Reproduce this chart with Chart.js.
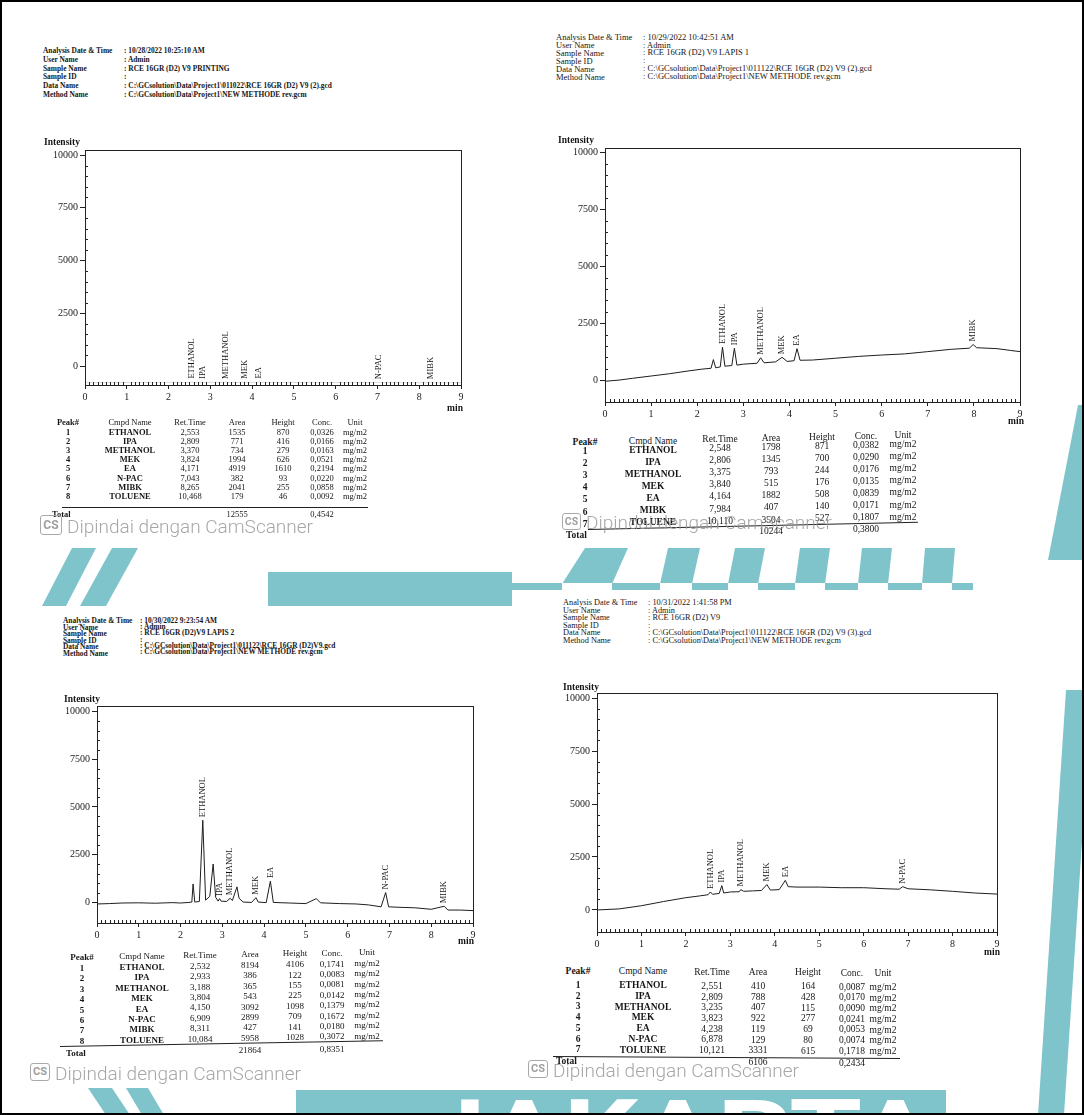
<!DOCTYPE html>
<html>
<head>
<meta charset="utf-8">
<script src="https://cdn.jsdelivr.net/npm/chart.js@4.4.1/dist/chart.umd.min.js"></script>
<style>
  body { margin: 0; background: #fff; }
  #page { position: relative; width: 1084px; height: 1115px; overflow: hidden; background: #fff; font-family: 'Liberation Serif', 'DejaVu Serif', serif; color: #161616; }
  #frame { position: absolute; left: 0; top: 0; width: 1084px; height: 1115px; box-sizing: border-box; border: 2px solid #000; z-index: 10; }
  #wm { position: absolute; left: 0; top: 0; z-index: 0; }
  .t { position: absolute; white-space: nowrap; line-height: 1; z-index: 2; }
  canvas { position: absolute; z-index: 2; }
  .cs { position: absolute; z-index: 3; box-sizing: border-box; border: 1.5px solid #a9a9a9; border-radius: 3px; color: #a0a0a0; font-family: Roboto, 'DejaVu Sans', sans-serif; font-weight: bold; text-align: center; }
  .scan { position: absolute; z-index: 3; white-space: nowrap; line-height: 1; color: rgba(150, 150, 150, 0.85); font-family: Roboto, 'Open Sans', sans-serif; font-weight: 300; }
  .rule { position: absolute; z-index: 2; border-top: 1.2px solid #222; transform-origin: 0 0; }
</style>
</head>
<body>
<div id="page">
  <svg id="wm" width="1084" height="1115">
    <g fill="#80c4cb">
      <polygon points="72,548 96,548 66,606 42,606" />
      <polygon points="112,548 138,548 106,606 80,606" />
      <rect x="268" y="572" width="244" height="34" />
      <polygon points="585,548 628,548 612,584 562,584" />
      <polygon points="668,548 700,548 692,584 660,584" />
      <polygon points="735,548 765,548 758,584 728,584" />
      <polygon points="800,548 830,548 825,584 795,584" />
      <polygon points="862,548 892,548 888,584 858,584" />
      <polygon points="925,548 955,548 952,584 922,584" />
      <rect x="505" y="583" width="468" height="7" />
      <polygon points="1078,405 1090,405 1090,560 1048,560" />
      <polygon points="1066,690 1092,690 1064,1115 1038,1115" />
      <polygon points="88,1088 112,1088 130,1115 106,1115" />
      <polygon points="126,1088 148,1088 164,1115 142,1115" />
      <rect x="296" y="1090" width="650" height="30" />
    </g>
    <g fill="#fff">
      <rect x="562" y="583" width="50" height="7" />
      <rect x="660" y="583" width="32" height="7" />
      <rect x="728" y="583" width="30" height="7" />
      <rect x="795" y="583" width="30" height="7" />
      <rect x="858" y="583" width="30" height="7" />
      <rect x="922" y="583" width="30" height="7" />
      <text x="420" y="1168" font-family="Roboto, 'DejaVu Sans', sans-serif" font-weight="bold" font-size="96" textLength="515" lengthAdjust="spacingAndGlyphs">JAKARTA</text>
    </g>
  </svg>
  <canvas id="c1" width="431" height="270"></canvas>
  <canvas id="c2" width="470" height="289"></canvas>
  <canvas id="c3" width="431" height="252"></canvas>
  <canvas id="c4" width="455" height="274"></canvas>
  <div id="frame"></div>
</div>
<script>
// 共用刻度與表頭
const xTicks = [0, 1, 2, 3, 4, 5, 6, 7, 8, 9]
const yTicks = [0, 2500, 5000, 7500, 10000]
const hdrLabels = ['Analysis Date & Time', 'User Name', 'Sample Name', 'Sample ID', 'Data Name', 'Method Name']
const tblHeads = ['Peak#', 'Cmpd Name', 'Ret.Time', 'Area', 'Height', 'Conc.', 'Unit']
const unitLabel = 'mg/m2'

// 1) 10/28 PRINTING
const p1Header = ['10/28/2022 10:25:10 AM', 'Admin', 'RCE 16GR (D2) V9 PRINTING', '', 'C:\\GCsolution\\Data\\Project1\\011022\\RCE 16GR (D2) V9 (2).gcd', 'C:\\GCsolution\\Data\\Project1\\NEW METHODE rev.gcm']
const p1Names = ['ETHANOL', 'IPA', 'METHANOL', 'MEK', 'EA', 'N-PAC', 'MIBK', 'TOLUENE']
const p1RetTime = [2.553, 2.809, 3.370, 3.824, 4.171, 7.043, 8.265, 10.468]
const p1Area = [1535, 771, 734, 1994, 4919, 382, 2041, 179]
const p1Height = [870, 416, 279, 626, 1610, 93, 255, 46]
const p1Conc = [0.0326, 0.0166, 0.0163, 0.0521, 0.2194, 0.0220, 0.0858, 0.0092]
const p1Total = [12555, 0.4542]
const p1Time = [0, 1.0, 2.0, 2.52, 2.553, 2.59, 2.78, 2.809, 2.84, 3.34, 3.370, 3.40, 3.79, 3.824, 3.86, 4.14, 4.171, 4.20, 5.0, 6.0, 7.01, 7.043, 7.08, 8.23, 8.265, 8.30, 9.0]
const p1Signal = [-790, -780, -775, -775, -740, -775, -775, -750, -775, -775, -755, -775, -775, -745, -775, -775, -730, -775, -780, -785, -785, -770, -785, -790, -765, -790, -795]

// 2) 10/29 LAPIS 1
const p2Header = ['10/29/2022  10:42:51 AM', 'Admin', 'RCE 16GR (D2) V9  LAPIS 1', '', 'C:\\GCsolution\\Data\\Project1\\011122\\RCE 16GR (D2) V9 (2).gcd', 'C:\\GCsolution\\Data\\Project1\\NEW METHODE rev.gcm']
const p2Names = ['ETHANOL', 'IPA', 'METHANOL', 'MEK', 'EA', 'MIBK', 'TOLUENE']
const p2RetTime = [2.548, 2.806, 3.375, 3.840, 4.164, 7.984, 10.110]
const p2Area = [1798, 1345, 793, 515, 1882, 407, 3504]
const p2Height = [871, 700, 244, 176, 508, 140, 527]
const p2Conc = [0.0382, 0.0290, 0.0176, 0.0135, 0.0839, 0.0171, 0.1807]
const p2Total = [10244, 0.3800]
const p2Time = [0, 0.3, 0.6, 1.0, 1.4, 1.8, 2.1, 2.3, 2.35, 2.4, 2.5, 2.548, 2.6, 2.75, 2.806, 2.86, 3.0, 3.3, 3.375, 3.45, 3.7, 3.84, 3.95, 4.1, 4.164, 4.23, 4.5, 5.0, 5.5, 6.0, 6.5, 7.0, 7.5, 7.9, 7.984, 8.06, 8.5, 8.8, 9.0]
const p2Signal = [-50, 0, 80, 180, 280, 400, 480, 520, 900, 540, 580, 1450, 610, 640, 1400, 660, 700, 740, 980, 760, 800, 1000, 820, 850, 1380, 870, 880, 960, 1040, 1100, 1150, 1250, 1350, 1400, 1560, 1420, 1380, 1300, 1250]

// 3) 10/30 LAPIS 2
const p3Header = ['10/30/2022 9:23:54 AM', 'Admin', 'RCE 16GR (D2)V9 LAPIS 2', '', 'C:\\GCsolution\\Data\\Project1\\011122\\RCE 16GR (D2)V9.gcd', 'C:\\GCsolution\\Data\\Project1\\NEW METHODE rev.gcm']
const p3Names = ['ETHANOL', 'IPA', 'METHANOL', 'MEK', 'EA', 'N-PAC', 'MIBK', 'TOLUENE']
const p3RetTime = [2.532, 2.933, 3.188, 3.804, 4.150, 6.909, 8.311, 10.084]
const p3Area = [8194, 386, 365, 543, 3092, 2899, 427, 5958]
const p3Height = [4106, 122, 155, 225, 1098, 709, 141, 1028]
const p3Conc = [0.1741, 0.0083, 0.0081, 0.0142, 0.1379, 0.1672, 0.0180, 0.3072]
const p3Total = [21864, 0.8351]
const p3Time = [0, 0.3, 0.6, 1.0, 1.4, 1.8, 2.0, 2.2, 2.27, 2.30, 2.34, 2.45, 2.532, 2.60, 2.70, 2.78, 2.84, 2.90, 2.933, 2.97, 3.10, 3.188, 3.24, 3.35, 3.40, 3.5, 3.7, 3.804, 3.86, 4.05, 4.15, 4.22, 4.6, 5.0, 5.25, 5.35, 5.8, 6.2, 6.5, 6.8, 6.909, 6.98, 7.3, 7.6, 8.0, 8.311, 8.4, 8.7, 9.0]
const p3Signal = [-100, -80, -50, -40, -60, -30, -50, -20, 0, 950, 0, 30, 4300, 100, 300, 2000, 250, 50, 180, 50, 30, 200, 80, 800, 200, 0, -20, 230, 0, -30, 1100, -20, -50, -80, 180, -40, -80, -100, -150, -250, 500, -250, -280, -300, -380, -220, -420, -420, -450]

// 4) 10/31
const p4Header = ['10/31/2022 1:41:58 PM', 'Admin', 'RCE 16GR (D2) V9', '', 'C:\\GCsolution\\Data\\Project1\\011122\\RCE 16GR (D2) V9 (3).gcd', 'C:\\GCsolution\\Data\\Project1\\NEW METHODE rev.gcm']
const p4Names = ['ETHANOL', 'IPA', 'METHANOL', 'MEK', 'EA', 'N-PAC', 'TOLUENE']
const p4RetTime = [2.551, 2.809, 3.235, 3.823, 4.238, 6.878, 10.121]
const p4Area = [410, 788, 407, 922, 119, 129, 3331]
const p4Height = [164, 428, 115, 277, 69, 80, 615]
const p4Conc = [0.0087, 0.0170, 0.0090, 0.0241, 0.0053, 0.0074, 0.1718]
const p4Total = [6106, 0.2434]
const p4Time = [0, 0.5, 1.0, 1.5, 2.0, 2.3, 2.5, 2.551, 2.6, 2.75, 2.809, 2.85, 3.0, 3.2, 3.235, 3.3, 3.5, 3.7, 3.823, 3.9, 4.1, 4.238, 4.3, 4.5, 5.0, 5.5, 6.0, 6.5, 6.8, 6.878, 7.0, 7.5, 8.0, 8.5, 9.0]
const p4Signal = [0, 50, 200, 400, 580, 660, 720, 850, 740, 780, 1150, 800, 850, 860, 960, 880, 900, 920, 1200, 940, 960, 1400, 1100, 1080, 1080, 1050, 1050, 1000, 980, 1100, 1000, 950, 880, 800, 750]

const page = document.getElementById('page')
const comma = (v, d) => v.toFixed(d).replace('.', ',')

function put (text, x, y, size, align, weight, extra) {
  const el = document.createElement('div')
  el.className = 't'
  el.textContent = text
  el.style.left = x + 'px'
  el.style.top = y + 'px'
  el.style.fontSize = size + 'px'
  el.style.fontWeight = weight || 'normal'
  el.style.transform = (align === 'center' ? 'translate(-50%, -50%)' : 'translate(0, -50%)') + (extra || '')
  page.appendChild(el)
  return el
}

function drawHeader (values, cfg) {
  hdrLabels.forEach((lab, i) => {
    const y = cfg.y + i * cfg.step
    put(lab, cfg.x, y, cfg.size, 'left', cfg.weight)
    put(': ' + values[i], cfg.vx, y + (cfg.slope || 0) * i, cfg.size, 'left', cfg.weight)
  })
}

function drawTable (cfg, names, rt, area, height, conc, total) {
  const yAt = (y, x) => y + cfg.slope * (x - cfg.cols[0])
  tblHeads.forEach((h, j) => put(h, cfg.cols[j], yAt(cfg.headY, cfg.cols[j]), cfg.size, 'center', j === 0 ? 'bold' : 'normal'))
  names.forEach((n, i) => {
    const y = cfg.rowY + i * cfg.step
    const cells = [String(i + 1), n, comma(rt[i], 3), String(area[i]), String(height[i]), comma(conc[i], 4), unitLabel]
    cells.forEach((c, j) => put(c, cfg.cols[j], yAt(y, cfg.cols[j]), cfg.size, 'center', j < 2 ? 'bold' : 'normal'))
  })
  const rule = document.createElement('div')
  rule.className = 'rule'
  rule.style.left = cfg.lineX[0] + 'px'
  rule.style.top = yAt(cfg.lineY, cfg.lineX[0]) + 'px'
  rule.style.width = (cfg.lineX[1] - cfg.lineX[0]) + 'px'
  rule.style.transform = 'rotate(' + Math.atan(cfg.slope) + 'rad)'
  page.appendChild(rule)
  put('Total', cfg.totalX, yAt(cfg.totalY, cfg.totalX), cfg.size, 'left', 'bold')
  put(String(total[0]), cfg.cols[3], yAt(cfg.totalY, cfg.cols[3]), cfg.size, 'center')
  put(comma(total[1], 4), cfg.cols[5], yAt(cfg.totalY, cfg.cols[5]), cfg.size, 'center')
}

function drawScanMark (x, y, box, size) {
  const b = document.createElement('div')
  b.className = 'cs'
  b.textContent = 'CS'
  b.style.left = x + 'px'
  b.style.top = (y - box / 2) + 'px'
  b.style.width = box + 'px'
  b.style.height = (box - 2) + 'px'
  b.style.fontSize = (box * 0.55) + 'px'
  b.style.lineHeight = (box - 4) + 'px'
  page.appendChild(b)
  const t = document.createElement('div')
  t.className = 'scan'
  t.textContent = 'Dipindai dengan CamScanner'
  t.style.left = (x + box + 5) + 'px'
  t.style.top = (y - size / 2) + 'px'
  t.style.fontSize = size + 'px'
  page.appendChild(t)
}

// 層析圖
function drawChromatogram (canvasId, plot, yRange, time, signal, names, retTime) {
  const canvas = document.getElementById(canvasId)
  canvas.style.left = (plot[0] - 45) + 'px'
  canvas.style.top = (plot[1] - 10) + 'px'
  canvas.width = plot[2] + 55
  canvas.height = plot[3] + 35
  const axisFont = { family: "'Liberation Serif', serif", size: 10 }
  const framePlugin = {
    id: 'frame',
    afterDraw (chart) {
      const { ctx, chartArea: a, scales } = chart
      ctx.save()
      ctx.strokeStyle = '#222'
      ctx.lineWidth = 1
      ctx.strokeRect(Math.round(a.left) + 0.5, Math.round(a.top) + 0.5, Math.round(a.right - a.left), Math.round(a.bottom - a.top))
      ctx.beginPath()
      for (let m = 1; m < 90; m++) {
        if (m % 10 === 0) continue
        const x = Math.round(scales.x.getPixelForValue(m / 10)) + 0.5
        ctx.moveTo(x, a.bottom)
        ctx.lineTo(x, a.bottom - 3)
      }
      for (let v = 500; v < yRange[1]; v += 500) {
        if (v % 2500 === 0) continue
        const y = Math.round(scales.y.getPixelForValue(v)) + 0.5
        ctx.moveTo(a.left, y)
        ctx.lineTo(a.left + 3, y)
      }
      ctx.stroke()
      ctx.restore()
    }
  }
  const peakPlugin = {
    id: 'peakNames',
    afterDatasetsDraw (chart) {
      const { ctx, scales } = chart
      ctx.save()
      ctx.fillStyle = '#151515'
      ctx.font = "8.5px 'Liberation Serif', serif"
      ctx.textAlign = 'left'
      ctx.textBaseline = 'middle'
      names.forEach((n, i) => {
        if (retTime[i] > 9) return
        let top = -Infinity
        time.forEach((t, k) => { if (Math.abs(t - retTime[i]) < 0.06 && signal[k] > top) top = signal[k] })
        const x = scales.x.getPixelForValue(retTime[i])
        const y = scales.y.getPixelForValue(top) - 3
        ctx.save()
        ctx.translate(x, y)
        ctx.rotate(-Math.PI / 2)
        ctx.fillText(n, 0, 0)
        ctx.restore()
      })
      ctx.restore()
    }
  }
  return new Chart(canvas, {
    type: 'line',
    data: {
      datasets: [{
        data: time.map((t, i) => ({ x: t, y: signal[i] })),
        borderColor: canvasId === 'c1' ? '#dadada' : '#1e1e1e',
        borderWidth: 1,
        pointRadius: 0,
        tension: 0,
        fill: false
      }]
    },
    options: {
      responsive: false,
      animation: false,
      events: [],
      layout: { padding: { top: 10, right: 10, left: 0, bottom: 0 } },
      plugins: { legend: { display: false }, tooltip: { enabled: false } },
      scales: {
        x: {
          type: 'linear',
          min: 0,
          max: 9,
          afterBuildTicks: (s) => { s.ticks = xTicks.map(v => ({ value: v })) },
          afterFit: (s) => { s.height = 25 },
          grid: { drawOnChartArea: false, tickLength: 4, color: '#222' },
          border: { color: '#222', width: 1 },
          ticks: { color: '#1a1a1a', font: axisFont, padding: 2, maxRotation: 0, callback: v => String(v) }
        },
        y: {
          type: 'linear',
          min: yRange[0],
          max: yRange[1],
          afterBuildTicks: (s) => { s.ticks = yTicks.map(v => ({ value: v })) },
          afterFit: (s) => { s.width = 45 },
          grid: { drawOnChartArea: false, tickLength: 5, color: '#222' },
          border: { color: '#222', width: 1 },
          ticks: { color: '#1a1a1a', font: axisFont, padding: 2, callback: v => String(v) }
        }
      }
    },
    plugins: [framePlugin, peakPlugin]
  })
}

// 1
drawHeader(p1Header, { x: 43, y: 51, step: 8.8, vx: 124, size: 7.4, weight: 'bold' })
put('Intensity', 44, 143, 9.5, 'left', 'bold')
put('min', 455, 409, 9.5, 'center', 'bold')
drawChromatogram('c1', [85, 150, 376, 235], [-900, 10240], p1Time, p1Signal, p1Names, p1RetTime)
drawTable({ cols: [68, 130, 190, 237, 283, 322, 355], headY: 422, rowY: 432, step: 9.1, lineY: 507, lineX: [62, 368], totalY: 514, totalX: 52, size: 8.5, slope: 0 }, p1Names, p1RetTime, p1Area, p1Height, p1Conc, p1Total)
drawScanMark(40, 526, 22, 19)

// 2
drawHeader(p2Header, { x: 556, y: 37, step: 8, vx: 643, size: 8.5, weight: 'normal', slope: -0.3 })
put('Intensity', 558, 141, 9.5, 'left', 'bold')
put('min', 1016, 422, 9.5, 'center', 'bold')
drawChromatogram('c2', [605, 148, 415, 254], [-960, 10180], p2Time, p2Signal, p2Names, p2RetTime)
drawTable({ cols: [585, 653, 720, 771, 822, 866, 903], headY: 443, rowY: 452, step: 12.1, lineY: 529, lineX: [588, 918], totalY: 536, totalX: 566, size: 9.5, slope: -0.022 }, p2Names, p2RetTime, p2Area, p2Height, p2Conc, p2Total)
drawScanMark(562, 522, 19, 19)

// 3
drawHeader(p3Header, { x: 63, y: 621, step: 6.5, vx: 140, size: 7.4, weight: 'bold', slope: -0.3 })
put('Intensity', 64, 700, 9.5, 'left', 'bold')
put('min', 466, 942, 9.5, 'center', 'bold')
drawChromatogram('c3', [97, 706, 376, 217], [-1100, 10300], p3Time, p3Signal, p3Names, p3RetTime)
drawTable({ cols: [82, 142, 200, 250, 295, 332, 367], headY: 957, rowY: 968, step: 10.4, lineY: 1046, lineX: [60, 383], totalY: 1053, totalX: 66, size: 9, slope: -0.018 }, p3Names, p3RetTime, p3Area, p3Height, p3Conc, p3Total)
drawScanMark(30, 1073, 20, 19)

// 4
drawHeader(p4Header, { x: 563, y: 603, step: 7.6, vx: 648, size: 8.3, weight: 'normal' })
put('Intensity', 563, 688, 9.5, 'left', 'bold')
put('min', 992, 953, 9.5, 'center', 'bold')
drawChromatogram('c4', [597, 693, 400, 239], [-1040, 10240], p4Time, p4Signal, p4Names, p4RetTime)
drawTable({ cols: [578, 643, 712, 758, 808, 852, 883], headY: 972, rowY: 986, step: 10.7, lineY: 1056, lineX: [553, 900], totalY: 1062, totalX: 556, size: 9.5, slope: 0.006 }, p4Names, p4RetTime, p4Area, p4Height, p4Conc, p4Total)
drawScanMark(528, 1070, 20, 19)
</script>
</body>
</html>
